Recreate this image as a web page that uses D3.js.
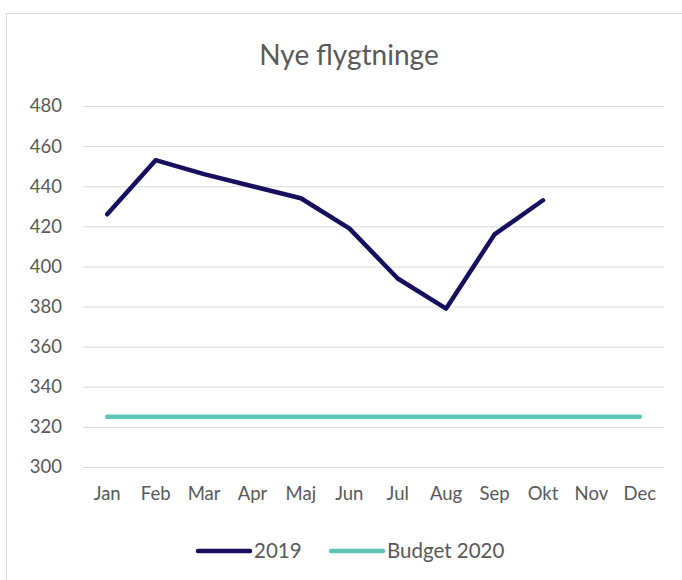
<!DOCTYPE html>
<meta charset="utf-8">
<head>
    <script src="https://d3js.org/d3.v7.min.js"></script>
    <style>
        body { margin: 0; background: #fff; }
        .tick text { font: 18.5px Lato, "Open Sans", sans-serif; fill: #595959; }
    </style>
</head>
<body>
<div id="graph"></div>
<script>
    // data
    var months = ["Jan", "Feb", "Mar", "Apr", "Maj", "Jun", "Jul", "Aug", "Sep", "Okt", "Nov", "Dec"];
    var values2019 = [426, 453, 446, 440, 434, 419, 394, 379, 416, 433];
    var budget2020 = [325, 325, 325, 325, 325, 325, 325, 325, 325, 325, 325, 325];
    var yTicks = [300, 320, 340, 360, 380, 400, 420, 440, 460, 480];
    var seriesNames = ["2019", "Budget 2020"];
    var seriesColors = ["#170f5e", "#5cc5b5"];

    var W = 682, H = 580;
    var margin = {top: 106, right: 18, bottom: 113, left: 83},
        width = W - margin.left - margin.right,
        height = H - margin.top - margin.bottom;

    var root = d3.select("#graph").append("svg")
        .attr("width", W)
        .attr("height", H);

    // chart frame
    root.append("rect")
        .attr("x", 6.5).attr("y", 13.5)
        .attr("width", 720).attr("height", 640)
        .attr("fill", "none")
        .attr("stroke", "#d9d9d9");

    // title
    root.append("text")
        .attr("x", 349).attr("y", 65)
        .attr("text-anchor", "middle")
        .style("font", "28px Lato, 'Open Sans', sans-serif")
        .style("fill", "#595959")
        .text("Nye flygtninge");

    var svg = root.append("g")
        .attr("transform", "translate(" + margin.left + "," + margin.top + ")");

    var x = d3.scaleBand().domain(months).range([0, width]);
    var y = d3.scaleLinear().domain([300, 480]).range([height, 0]);

    // grid lines
    svg.append("g")
        .call(d3.axisLeft(y).tickValues(yTicks).tickSize(-width).tickFormat(""))
        .call(function(g) { g.select(".domain").remove(); })
        .selectAll("line")
        .attr("stroke", "#d9d9d9");

    // y axis labels
    svg.append("g")
        .call(d3.axisLeft(y).tickValues(yTicks).tickSize(0).tickPadding(21))
        .call(function(g) { g.select(".domain").remove(); });

    // x axis labels
    svg.append("g")
        .attr("transform", "translate(0," + height + ")")
        .call(d3.axisBottom(x).tickSize(0).tickPadding(20))
        .call(function(g) { g.select(".domain").remove(); });

    var line = d3.line()
        .x(function(d, i) { return x(months[i]) + x.bandwidth() / 2; })
        .y(function(d) { return y(d); });

    svg.append("path")
        .datum(budget2020)
        .attr("d", line)
        .attr("fill", "none")
        .attr("stroke", seriesColors[1])
        .attr("stroke-width", 4.5)
        .attr("stroke-linecap", "round")
        .attr("stroke-linejoin", "round");

    svg.append("path")
        .datum(values2019)
        .attr("d", line)
        .attr("fill", "none")
        .attr("stroke", seriesColors[0])
        .attr("stroke-width", 4.5)
        .attr("stroke-linecap", "round")
        .attr("stroke-linejoin", "round");

    // legend
    var legendX = [198, 331];
    var legend = root.append("g");
    seriesNames.forEach(function(name, i) {
        legend.append("line")
            .attr("x1", legendX[i]).attr("x2", legendX[i] + 52)
            .attr("y1", 551).attr("y2", 551)
            .attr("stroke", seriesColors[i])
            .attr("stroke-width", 4.5)
            .attr("stroke-linecap", "round");
        legend.append("text")
            .attr("x", legendX[i] + 56).attr("y", 558)
            .style("font", "20.5px Lato, 'Open Sans', sans-serif")
            .style("fill", "#595959")
            .text(name);
    });
</script>
</body>
